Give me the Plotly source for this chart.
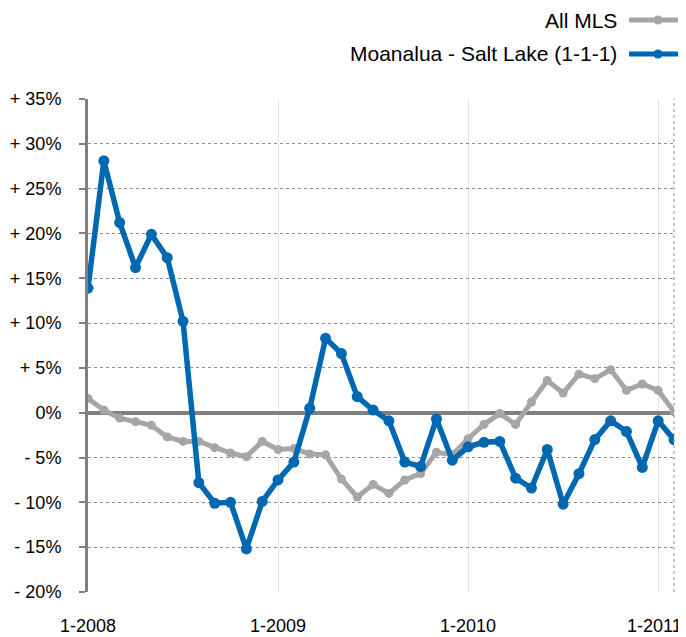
import plotly.graph_objects as go

months = [f"{m}-{y}" for y in (2008, 2009, 2010, 2011) for m in range(1, 13)][:38]

all_mls = [1.6, 0.3, -0.6, -1.0, -1.4, -2.7, -3.2, -3.2, -3.9, -4.5, -4.9, -3.2,
           -4.1, -4.0, -4.6, -4.7, -7.4, -9.4, -8.0, -9.0, -7.5, -6.8, -4.4, -4.7,
           -2.9, -1.3, -0.1, -1.3, 1.2, 3.6, 2.2, 4.3, 3.8, 4.8, 2.5, 3.2, 2.5, 0.1]

moanalua = [13.9, 28.1, 21.2, 16.2, 19.9, 17.3, 10.2, -7.8, -10.1, -10.0, -15.2, -9.9,
            -7.5, -5.5, 0.5, 8.3, 6.6, 1.8, 0.3, -0.9, -5.5, -6.0, -0.7, -5.3,
            -3.8, -3.3, -3.2, -7.3, -8.4, -4.1, -10.2, -6.8, -3.0, -0.9, -2.1, -6.1, -0.9, -3.0]

y_ticks = [35, 30, 25, 20, 15, 10, 5, 0, -5, -10, -15, -20]
y_labels = ["+ 35%", "+ 30%", "+ 25%", "+ 20%", "+ 15%", "+ 10%", "+ 5%", "0%",
            "- 5%", "- 10%", "- 15%", "- 20%"]
x_ticks = ["1-2008", "1-2009", "1-2010", "1-2011"]
# the last label is drawn separately, pulled in from the right edge as in the reference
x_tick_text = ["1-2008", "1-2009", "1-2010", ""]
last_label = "1-2011"

GRAY = "#a6a6a6"
BLUE = "#0067b1"
AXIS = "#808080"
FONT = "Liberation Sans, Arial, Helvetica, sans-serif"

fig = go.Figure()
fig.add_trace(go.Scatter(x=months, y=all_mls, mode="lines+markers", name="All MLS",
                         line=dict(color=GRAY, width=5), marker=dict(color=GRAY, size=9),
                         showlegend=False))
fig.add_trace(go.Scatter(x=months, y=moanalua, mode="lines+markers",
                         name="Moanalua - Salt Lake (1-1-1)",
                         line=dict(color=BLUE, width=5.5), marker=dict(color=BLUE, size=11),
                         showlegend=False))

# page has an 8px body margin, so the figure is sized and placed to compensate
fig.update_layout(
    width=678, height=629,
    margin=dict(l=80, r=12, t=91, b=45),
    paper_bgcolor="white", plot_bgcolor="white",
    font=dict(family=FONT, size=18, color="black"),
    xaxis=dict(type="category", categoryorder="array", categoryarray=months,
               range=[0, 37], tickmode="array", tickvals=x_ticks, ticktext=x_tick_text,
               showgrid=True, gridcolor="#e3e3e3", gridwidth=1,
               showline=False, zeroline=False, ticks="", ticklabelstandoff=21,
               automargin=False),
    yaxis=dict(range=[-20, 35], tickmode="array", tickvals=y_ticks, ticktext=y_labels,
               showgrid=True, gridcolor="#8c8c8c", gridwidth=1, griddash="dot",
               zeroline=True, zerolinecolor=AXIS, zerolinewidth=4,
               showline=True, linecolor=AXIS, linewidth=3,
               ticks="outside", ticklen=6, tickwidth=2, tickcolor=AXIS,
               ticklabelstandoff=14, automargin=False),
)

PW, PH = 586, 493
PX0, PY0 = 88, 99  # plot-area top-left in screen pixels

fig.add_annotation(xref="paper", yref="paper", x=(684 - PX0) / PW, y=1 - (626 - PY0) / PH,
                   text=last_label, showarrow=False, xanchor="right", yanchor="middle",
                   font=dict(family=FONT, size=18, color="black"))

# right border (dotted)
fig.add_shape(type="line", xref="paper", yref="paper", x0=1, x1=1, y0=0, y1=1,
              line=dict(color="#8c8c8c", width=1, dash="dot"))

# legend drawn at top right with the sample line to the right of the text
legend_items = [("All MLS", GRAY, 20), ("Moanalua - Salt Lake (1-1-1)", BLUE, 54)]
for text, color, ypx in legend_items:
    yp = 1 + (PY0 - ypx) / PH
    x_end = (619 - PX0) / PW
    x0 = (629 - PX0) / PW
    x1 = (684 - PX0) / PW
    xm = (658 - PX0) / PW
    fig.add_annotation(xref="paper", yref="paper", x=x_end, y=yp, text=text,
                       showarrow=False, xanchor="right", yanchor="middle",
                       font=dict(family=FONT, size=21, color="black"))
    fig.add_shape(type="line", xref="paper", yref="paper", x0=x0, x1=x1, y0=yp, y1=yp,
                  line=dict(color=color, width=5))
    fig.add_shape(type="circle", xref="paper", yref="paper",
                  x0=xm - 4.5 / PW, x1=xm + 4.5 / PW,
                  y0=yp - 4.5 / PH, y1=yp + 4.5 / PH,
                  fillcolor=color, line=dict(color=color, width=0))

fig.write_html("out.html")
